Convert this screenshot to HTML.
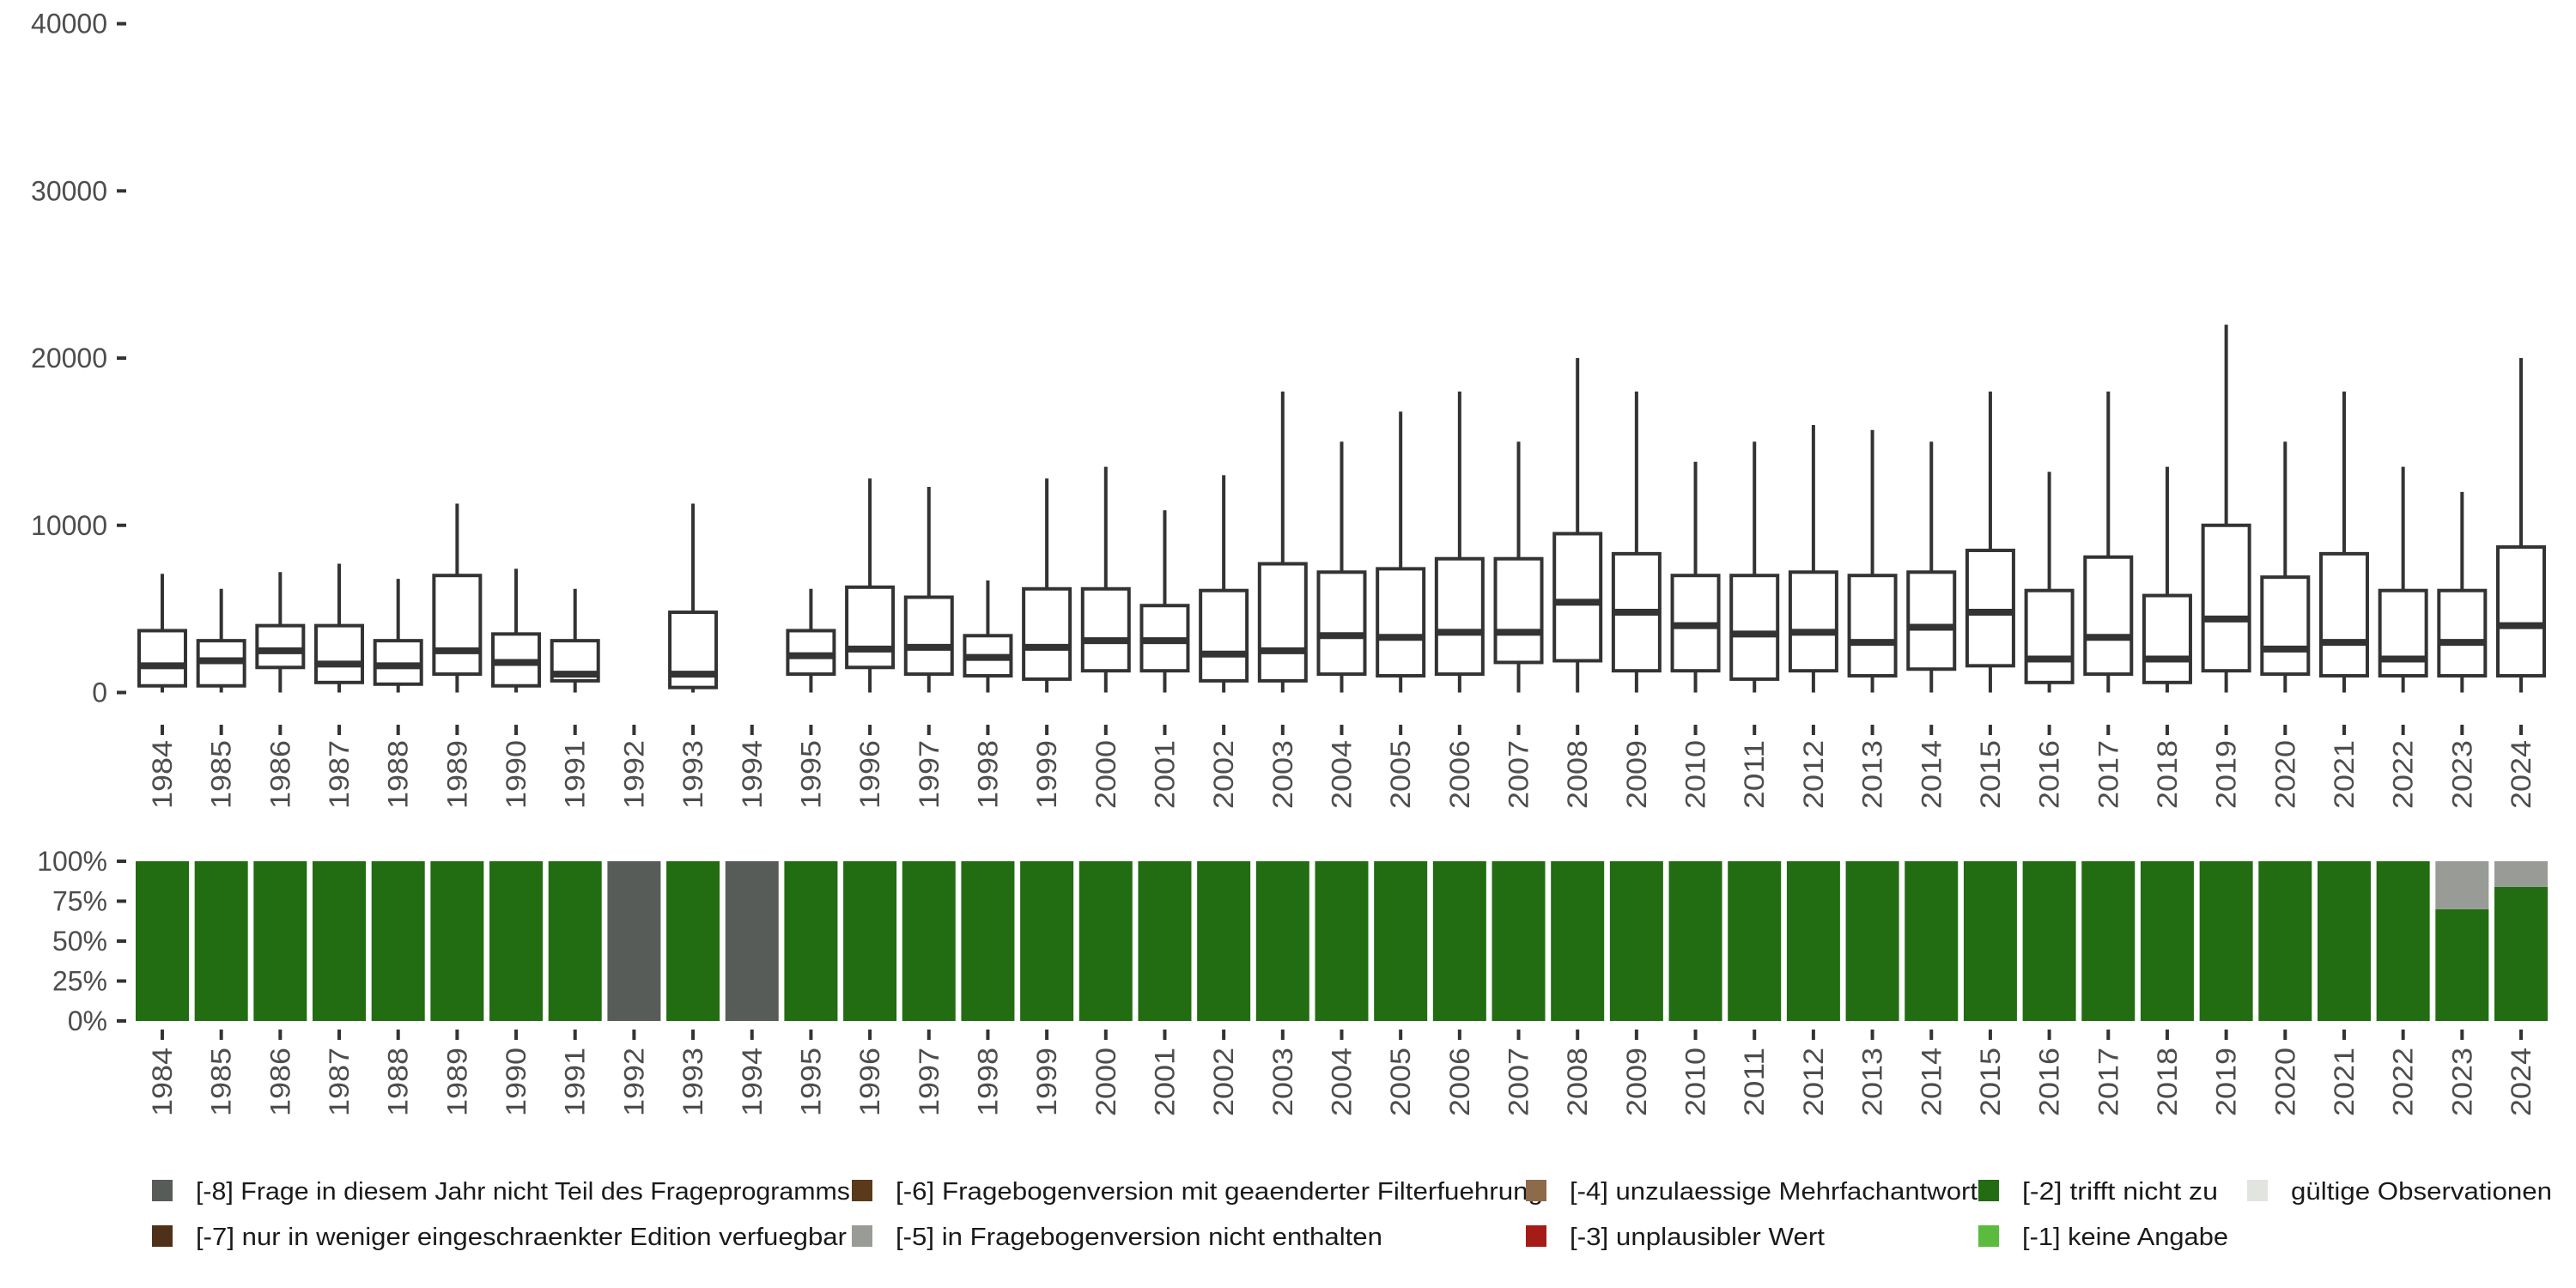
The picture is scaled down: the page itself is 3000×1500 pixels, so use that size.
<!DOCTYPE html>
<html><head><meta charset="utf-8">
<style>
html,body{margin:0;padding:0;background:#fff;}
svg{display:block;font-family:"Liberation Sans","DejaVu Sans",sans-serif;}
</style></head>
<body>
<svg id="chart" width="3000" height="1500" viewBox="0 0 3000 1500" xmlns="http://www.w3.org/2000/svg"></svg>
<script>
const years = [1984,1985,1986,1987,1988,1989,1990,1991,1992,1993,1994,1995,1996,1997,1998,1999,2000,2001,2002,2003,2004,2005,2006,2007,2008,2009,2010,2011,2012,2013,2014,2015,2016,2017,2018,2019,2020,2021,2022,2023,2024];
const whiskerHigh = [7100,6200,7200,7700,6800,11300,7400,6200,null,11300,null,6200,12800,12300,6700,12800,13500,10900,13000,18000,15000,16800,18000,15000,20000,18000,13800,15000,16000,15700,15000,18000,13200,18000,13500,22000,15000,18000,13500,12000,20000];
const q3Values = [3700,3100,4000,4000,3100,7000,3500,3100,null,4800,null,3700,6300,5700,3400,6200,6200,5200,6100,7700,7200,7400,8000,8000,9500,8300,7000,7000,7200,7000,7200,8500,6100,8100,5800,10000,6900,8300,6100,6100,8700];
const medianValues = [1600,1900,2500,1700,1600,2500,1800,1100,null,1100,null,2200,2600,2700,2100,2700,3100,3100,2300,2500,3400,3300,3600,3600,5400,4800,4000,3500,3600,3000,3900,4800,2000,3300,2000,4400,2600,3000,2000,3000,4000];
const q1Values = [400,400,1500,600,500,1100,400,700,null,300,null,1100,1500,1100,1000,800,1300,1300,700,700,1100,1000,1100,1800,1900,1300,1300,800,1300,1000,1400,1600,600,1100,600,1300,1100,1000,1000,1000,1000];
const whiskerLow = [0,0,0,0,0,0,0,0,null,0,null,0,0,0,0,0,0,0,0,0,0,0,0,0,0,0,0,0,0,0,0,0,0,0,0,0,0,0,0,0,0];
const yTicks = [0,10000,20000,30000,40000];
const pctTicks = [0,25,50,75,100];
// share (%) per year for each category
const share8 = [0,0,0,0,0,0,0,0,100,0,100,0,0,0,0,0,0,0,0,0,0,0,0,0,0,0,0,0,0,0,0,0,0,0,0,0,0,0,0,0,0];
const share5 = [0,0,0,0,0,0,0,0,0,0,0,0,0,0,0,0,0,0,0,0,0,0,0,0,0,0,0,0,0,0,0,0,0,0,0,0,0,0,0,30,16];
const share2 = [100,100,100,100,100,100,100,100,0,100,0,100,100,100,100,100,100,100,100,100,100,100,100,100,100,100,100,100,100,100,100,100,100,100,100,100,100,100,100,70,84];
const legendLabels = ["[-8] Frage in diesem Jahr nicht Teil des Frageprogramms","[-7] nur in weniger eingeschraenkter Edition verfuegbar","[-6] Fragebogenversion mit geaenderter Filterfuehrung","[-5] in Fragebogenversion nicht enthalten","[-4] unzulaessige Mehrfachantwort","[-3] unplausibler Wert","[-2] trifft nicht zu","[-1] keine Angabe","gültige Observationen"];
const legendColors = ["#575c58","#4e3118","#5a3a1a","#999b96","#8c6a4a","#a51c16","#226c11","#5bbb3e","#e2e4e0"];

const NS="http://www.w3.org/2000/svg";
const svg=document.getElementById('chart');
function mk(tag,attrs,parent){const e=document.createElementNS(NS,tag);for(const k in attrs)e.setAttribute(k,attrs[k]);(parent||svg).appendChild(e);return e;}
const xScale=i=>189+i*(2936-189)/40;
const yScale=v=>806.5-v*(806.5-27.6)/40000;
const pScale=p=>1189-p*(1189-1003)/100;
const TXT="#4d4d4d", INK="#333333";

// top y axis
const gy=mk('g',{});


yTicks.forEach(t=>{
  const y=yScale(t);
  const tk=mk('line',{x1:136,x2:147,y1:y,y2:y,stroke:INK,'stroke-width':4},gy);
  
  
  const tx=mk('text',{x:125,y:y+11,'text-anchor':'end','font-size':32,fill:TXT},gy);
  
  
  tx.textContent=String(t);
});
// boxes
years.forEach((yr,i)=>{
  const x=xScale(i);
  // x ticks and labels top
  const tk=mk('line',{x1:x,x2:x,y1:844,y2:856,stroke:INK,'stroke-width':4});
  
  
  const lb=mk('text',{x:0,y:0,transform:`translate(${x+11},862) rotate(-90)`,'text-anchor':'end','font-size':32,fill:TXT,textLength:80,lengthAdjust:'spacingAndGlyphs'});
  
  
  lb.textContent=String(yr);
  if(medianValues[i]==null) return;
  const g=mk('g',{});
  
  
  const hw=27;
  mk('line',{x1:x,x2:x,y1:yScale(whiskerHigh[i]),y2:yScale(q3Values[i]),stroke:INK,'stroke-width':4},g);
  mk('line',{x1:x,x2:x,y1:yScale(q1Values[i]),y2:yScale(whiskerLow[i]),stroke:INK,'stroke-width':4},g);
  mk('rect',{x:x-hw,y:yScale(q3Values[i]),width:hw*2,height:yScale(q1Values[i])-yScale(q3Values[i]),fill:'#fff',stroke:INK,'stroke-width':4},g);
  mk('line',{x1:x-hw,x2:x+hw,y1:yScale(medianValues[i]),y2:yScale(medianValues[i]),stroke:INK,'stroke-width':8},g);
});

// bottom y axis
const gp=mk('g',{});


pctTicks.forEach(t=>{
  const y=pScale(t);
  const tk=mk('line',{x1:136,x2:147,y1:y,y2:y,stroke:INK,'stroke-width':4},gp);
  
  
  const tx=mk('text',{x:125,y:y+11,'text-anchor':'end','font-size':32,fill:TXT},gp);
  
  
  tx.textContent=t+'%';
});
years.forEach((yr,i)=>{
  const x=xScale(i), bw=62;
  let cum=0;
  [[share2,'#226c11','trifft-nicht-zu'],[share5,'#999b96','nicht-enthalten'],[share8,'#575c58','nicht-teil']].forEach(([arr,col,nm])=>{
    const v=arr[i]; if(!v) return;
    const r=mk('rect',{x:x-bw/2,y:pScale(cum+v),width:bw,height:pScale(cum)-pScale(cum+v),fill:col});
    
    
    cum+=v;
  });
  const tk=mk('line',{x1:x,x2:x,y1:1199,y2:1211,stroke:INK,'stroke-width':4});
  
  
  const lb=mk('text',{x:0,y:0,transform:`translate(${x+11},1220) rotate(-90)`,'text-anchor':'end','font-size':32,fill:TXT,textLength:80,lengthAdjust:'spacingAndGlyphs'});
  
  
  lb.textContent=String(yr);
});

// legend
const legPos=[[177,1374,762],[177,1427,758],[992,1374,754],[992,1427,567],[1777,1374,475],[1777,1427,297],[2304,1374,228],[2304,1427,240],[2617,1374,304]];
const lg=mk('g',{});


legendLabels.forEach((t,i)=>{
  const [x,y,w]=legPos[i];
  const e=mk('g',{},lg);
  
  
  mk('rect',{x:x,y:y,width:24,height:25,fill:legendColors[i]},e);
  const tx=mk('text',{x:x+51,y:y+23,'font-size':29,fill:'#1a1a1a',textLength:w,lengthAdjust:'spacingAndGlyphs'},e);
  tx.textContent=t;
});
</script>
</body></html>
